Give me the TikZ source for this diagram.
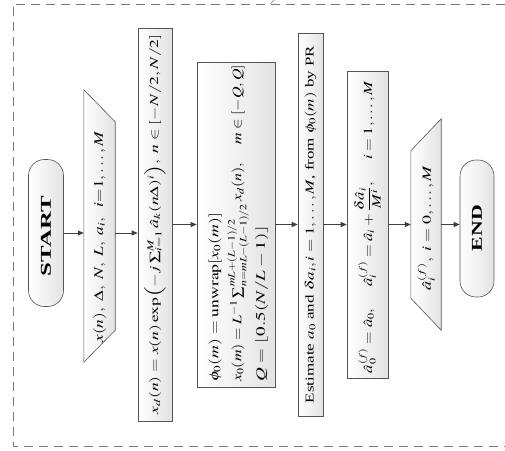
\documentclass[tikz,border=0pt]{standalone}
\usepackage{mathptmx}
\usepackage{fontspec}
\setmainfont{Liberation Serif}
\usetikzlibrary{calc,arrows.meta}
\definecolor{linec}{HTML}{555555}
\definecolor{arrowc}{HTML}{404040}
\definecolor{bordc}{HTML}{7A7A7A}
% stretch a text along its line to a given length, keeping its height
\newcommand{\fitlen}[2]{\resizebox{#1}{\height}{#2}}
\begin{document}
\begin{tikzpicture}[x=1pt,y=-1pt,
  box/.style={draw=linec, line width=0.6pt, left color=white, right color=gray!22, inner sep=0pt},
  stadium/.style={box, rounded corners=16pt},
  ghost/.style={inner sep=0pt, minimum width=0pt, minimum height=0pt},
  lbl/.style={inner sep=0pt},
  flow/.style={draw=arrowc, line width=0.8pt, -{Triangle[length=6pt,width=5pt]}},
  frame/.style={draw=bordc, line width=0.8pt, dash pattern=on 9pt off 6pt}
]
\path[use as bounding box] (0,0) rectangle (505,450);
% dashed frame
\draw[frame] (505,4) -- (13,4) -- (13,446) -- (505,446);
\draw[bordc, line width=0.6pt] (270,4) .. controls (271.5,2) .. (274,0);

% START
\node[stadium, minimum width=35pt, minimum height=147pt] (start) at (46,233) {};
\node[lbl] (startt) at (46,236)
  {\rotatebox{90}{\fontsize{15}{17}\selectfont\bfseries\fitlen{80pt}{START}}};

% input trapezoid 1
\node[ghost, minimum width=31pt, minimum height=272pt] (in1) at (99.5,226) {};
\shadedraw[draw=linec, line width=0.6pt, left color=white, right color=gray!22]
  (in1.north west) -- (in1.south west) -- ($(in1.south east)+(0,-32)$) -- ($(in1.north east)+(0,32)$) -- cycle;
\node[lbl] (in1t) at (99.5,237) {\rotatebox{90}{\fontsize{13}{15}\selectfont
  \fitlen{211pt}{$x(n),\ \Delta,\ N,\ L,\ a_i,\ \ i{=}1,\ldots,M$}}};

% box 2
\node[box, minimum width=34pt, minimum height=393pt] (b2) at (155,224.5)
  {\rotatebox{90}{\fontsize{12}{14}\selectfont
  \fitlen{380pt}{$x_d(n) = x(n)\exp\Bigl(-j\sum_{i=1}^{M}\hat a_k(n\Delta)^i\Bigr),\ n\in[-N/2,N/2]$}}};

% box 3
\node[box, minimum width=78pt, minimum height=325pt] (b3) at (236,224.5) {};
\node[lbl, anchor=south] (b3t) at (237,382)
  {\rotatebox{90}{\fontsize{13}{23}\selectfont\begin{tabular}{@{}l@{}}
  \fitlen{169pt}{$\phi_0(m) = \mathrm{unwrap}[x_0(m)]$}\\
  \fitlen{317pt}{$x_0(m) = L^{-1}\sum_{n=mL-(L-1)/2}^{mL+(L-1)/2} x_d(n),\quad m\in[-Q,Q]$}\\
  \fitlen{157pt}{$Q=\lfloor 0.5(N/L-1)\rfloor$}
  \end{tabular}}};

% box 4
\node[box, minimum width=25pt, minimum height=383pt] (b4) at (310.5,224.5)
  {\rotatebox{90}{\fontsize{12}{14}\selectfont
  \fitlen{357pt}{Estimate $a_0$\ and $\delta a_i, i=1,\ldots,M$, from $\phi_0(m)$ by PR}}};

% box 5
\node[box, minimum width=41pt, minimum height=307pt] (b5) at (367.5,224.5) {};
\node[lbl] (b5t) at (367.5,227)
  {\rotatebox{90}{\fontsize{12.5}{14}\selectfont
  \fitlen{292pt}{$\hat a_0^{(f)} = \hat a_0,\quad\ \hat a_i^{(f)} = \hat a_i + {\displaystyle\frac{\delta\hat a_i}{M^i}},\quad\ i=1,\ldots,M$}}};

% output trapezoid 2
\node[ghost, minimum width=30pt, minimum height=211pt] (in2) at (426,224.5) {};
\shadedraw[draw=linec, line width=0.6pt, left color=white, right color=gray!22]
  ($(in2.north west)+(0,32)$) -- ($(in2.south west)+(0,-32)$) -- (in2.south east) -- (in2.north east) -- cycle;
\node[lbl] (in2t) at (426,228) {\rotatebox{90}{\fontsize{12.5}{14}\selectfont
  \fitlen{125pt}{$\hat a_i^{(f)},\ i=0,\ldots,M$}}};

% END
\node[stadium, minimum width=34pt, minimum height=137pt] (end) at (477,228.5) {};
\node[lbl] (endt) at (477,228)
  {\rotatebox{90}{\fontsize{15}{17}\selectfont\bfseries\fitlen{46pt}{END}}};

% connectors
\draw[flow] (start.east) -- (start.east -| in1.west);
\draw[flow] (in1.east |- start.east) -- (start.east -| b2.west);
\draw[flow] (b2.east) -- (b3.west);
\draw[flow] (b3.east) -- (b4.west);
\draw[flow] (b4.east) -- (b5.west);
\draw[flow] (b5.east) -- (in2.west);
\draw[flow] (in2.east) -- (in2.east -| end.west);
\end{tikzpicture}
\end{document}
